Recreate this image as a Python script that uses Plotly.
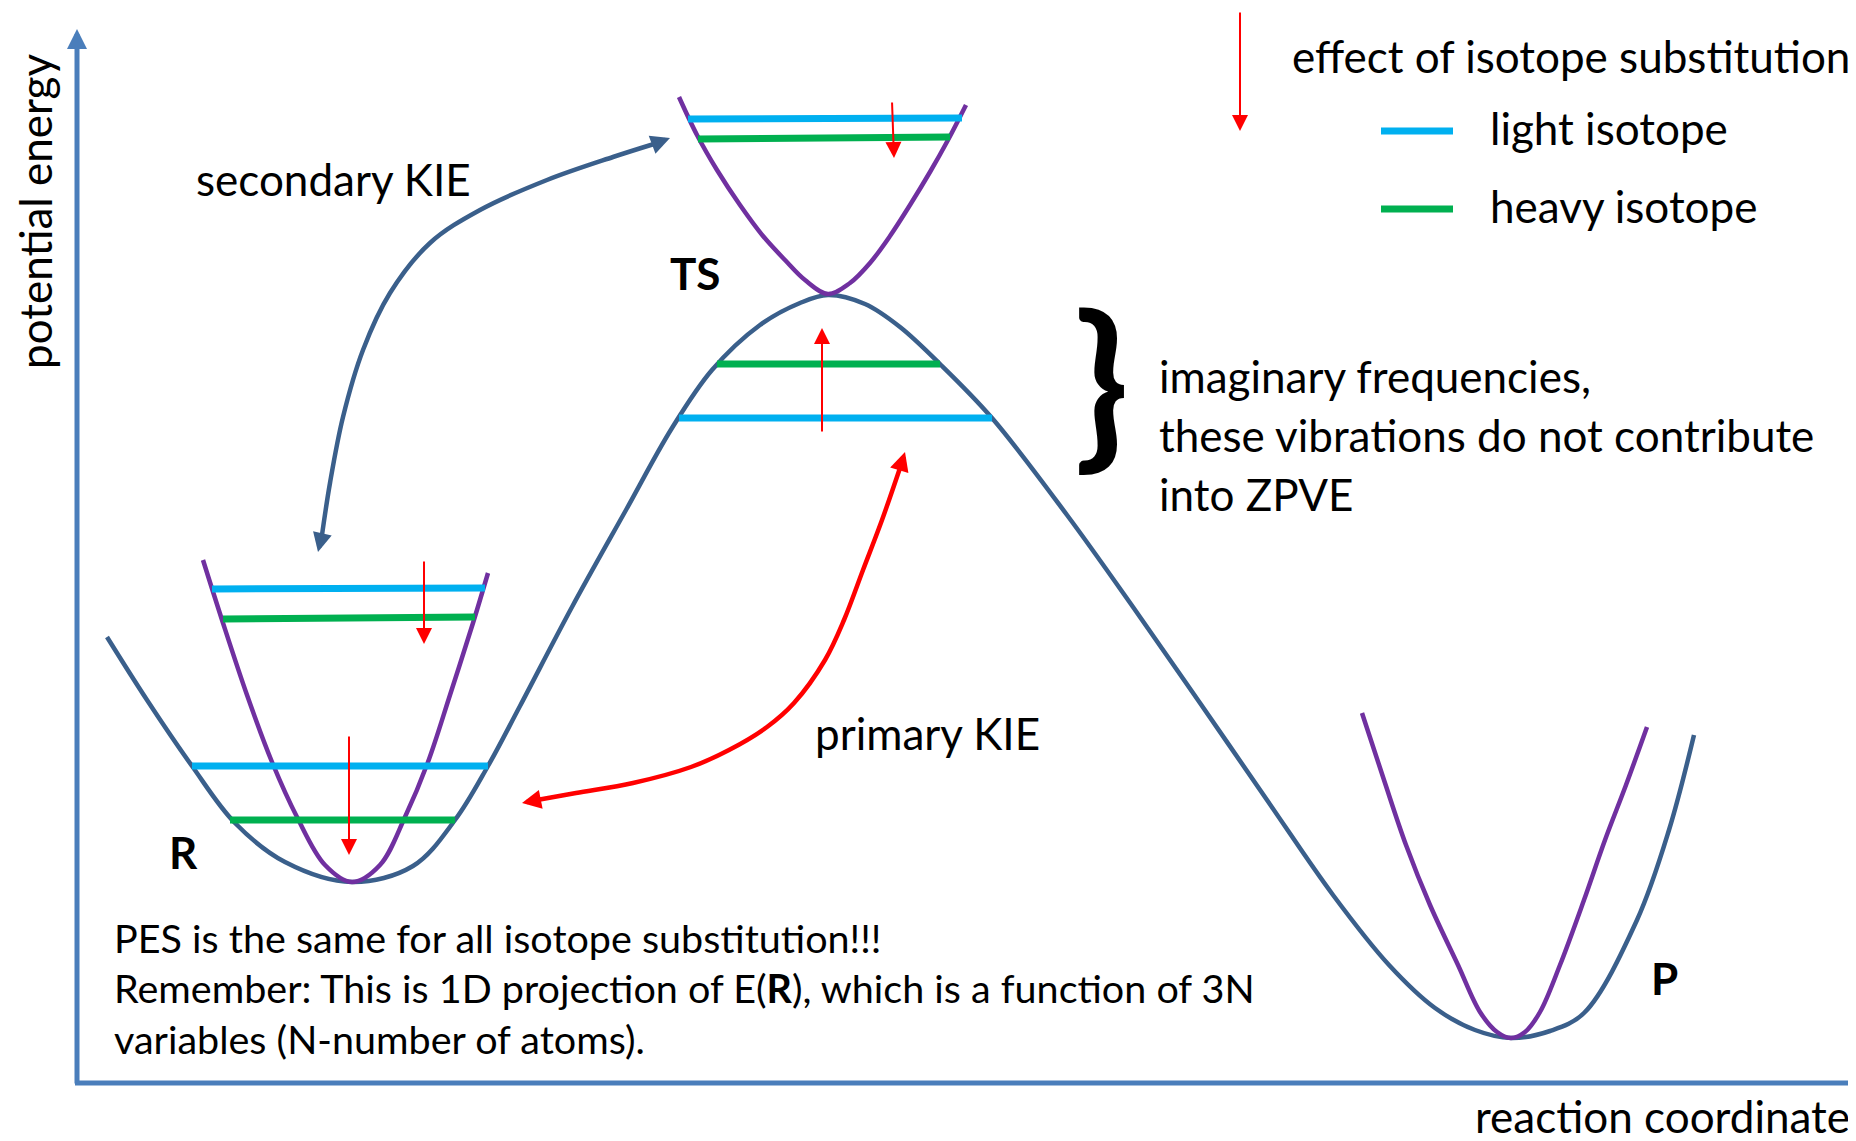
import plotly.graph_objects as go

W, H = 1856, 1141
PAGE_MARGIN = 8  # default body margin of the html page

# ---- curves (pixel space) ----
PES_X = [107, 147, 192, 235, 285, 352, 413, 455, 488, 520, 572, 626, 672, 712, 760, 800, 828, 865,
         900, 940, 992, 1067, 1133, 1200, 1267, 1333, 1389, 1435, 1475, 1511, 1550, 1584, 1637, 1669, 1694]
PES_Y = [637, 700, 766, 823, 862, 882, 866, 820, 766, 706, 607, 510, 428, 370, 325, 303, 295, 304,
         327, 364, 418, 515, 607, 703, 800, 895, 965, 1008, 1030, 1038, 1031, 1013, 920, 830, 735]

R_WELL_X = [203, 223, 247, 272, 297, 325, 352, 380, 405, 428, 450, 473, 488]
R_WELL_Y = [560, 623, 695, 762, 817, 865, 882, 865, 817, 762, 695, 623, 573]

TS_WELL_X = [679, 697, 717, 740, 763, 785, 805, 828, 850, 870, 890, 910, 930, 948, 966]
TS_WELL_Y = [97, 135, 170, 205, 236, 260, 280, 294, 283, 263, 236, 205, 172, 140, 105]

P_WELL_X = [1362, 1384, 1406, 1430, 1458, 1480, 1497, 1511, 1525, 1540, 1560, 1584, 1605, 1626, 1647]
P_WELL_Y = [713, 780, 845, 905, 965, 1012, 1032, 1038, 1032, 1012, 965, 900, 840, 785, 727]

# ---- vibrational levels: (x0, y0, x1, y1) ----
LIGHT_LEVELS = [(212, 589, 485, 588), (192, 766, 488, 766), (688, 119, 962, 118), (679, 418, 992, 418)]
HEAVY_LEVELS = [(223, 619, 475, 617), (230, 820, 455, 820), (698, 139, 950, 137), (717, 364, 940, 364)]

# ---- isotope-effect arrows: (x_start, y_start, x_tip, y_tip) ----
ISO_ARROWS = [(424, 560, 424, 644), (349, 735, 349, 855), (892, 101, 894, 158), (822, 433, 822, 328),
              (1240, 11, 1240, 131)]

# ---- KIE curved arrows ----
SEC_X = [654, 613, 547, 480, 430, 390, 363, 343, 330, 322]
SEC_Y = [144, 157, 180, 210, 243, 293, 350, 417, 483, 535]
SEC_TIPS = [(670, 138), (318, 552)]

PRI_X = [900, 882, 863, 844, 825, 794, 767, 729, 691, 633, 576, 537]
PRI_Y = [468, 520, 570, 620, 660, 703, 727, 750, 767, 783, 793, 800]
PRI_TIPS = [(905, 452), (522, 803)]

# ---- axes ----
Y_AXIS = (77, 1085, 77, 29)
X_AXIS = (75, 1083, 1856, 1083)

# ---- legend ----
LEGEND_LIGHT = (1381, 131, 1453, 131)
LEGEND_HEAVY = (1381, 209, 1453, 209)

# ---- texts: (text, x, baseline_y, size, anchor) ----
TEXTS = [
    ("secondary KIE", 194, 196, 44, "left"),
    ("<b>TS</b>", 668, 290, 44, "left"),
    ("<b>R</b>", 167, 869, 44, "left"),
    ("<b>P</b>", 1649, 995, 44, "left"),
    ("primary KIE", 813, 750, 44, "left"),
    ("effect of isotope substitution", 1290, 73, 44, "left"),
    ("light isotope", 1488, 145, 44, "left"),
    ("heavy isotope", 1488, 223, 44, "left"),
    ("imaginary frequencies,", 1157, 393, 44, "left"),
    ("these vibrations do not contribute", 1157, 452, 44, "left"),
    ("into ZPVE", 1157, 511, 44, "left"),
    ("PES is the same for all isotope substitution!!!", 112, 953, 39.5, "left"),
    ("Remember: This is 1D projection of E(<b>R</b>), which is a function of 3N", 112, 1003, 39.5, "left"),
    ("variables (N-number of atoms).", 112, 1054, 39.5, "left"),
    ("reaction coordinate", 1852, 1133, 44, "right"),
]
Y_LABEL = ("potential energy", 52, 211, 44)
BRACE = ("<b>}</b>", 1101, 377, 180)

FONT = "Lato, 'Open Sans', sans-serif"
C_PES = "#3A5F8B"
C_AXIS = "#4A7EBB"
C_WELL = "#7030A0"
C_LIGHT = "#00B0F0"
C_HEAVY = "#00B050"
C_RED = "#FF0000"

fig = go.Figure()


def add_line(xs, ys, color, width, shape="spline"):
    fig.add_trace(go.Scatter(x=xs, y=ys, mode="lines", hoverinfo="skip",
                             line=dict(color=color, width=width, shape=shape, smoothing=1.0)))


add_line(PES_X, PES_Y, C_PES, 4.5)
add_line(R_WELL_X, R_WELL_Y, C_WELL, 4.5)
add_line(TS_WELL_X, TS_WELL_Y, C_WELL, 4.5)
add_line(P_WELL_X, P_WELL_Y, C_WELL, 4.5)

for x0, y0, x1, y1 in LIGHT_LEVELS + [LEGEND_LIGHT]:
    add_line([x0, x1], [y0, y1], C_LIGHT, 7, "linear")
for x0, y0, x1, y1 in HEAVY_LEVELS + [LEGEND_HEAVY]:
    add_line([x0, x1], [y0, y1], C_HEAVY, 7, "linear")

add_line(SEC_X, SEC_Y, C_PES, 4.5)
add_line(PRI_X, PRI_Y, C_RED, 4.5)

anns = []


def arrow(x0, y0, x1, y1, color, width, size):
    anns.append(dict(x=x1, y=y1, ax=x0, ay=y0, xref="x", yref="y", axref="x", ayref="y",
                     text="", showarrow=True, arrowhead=2, arrowsize=size, arrowwidth=width,
                     arrowcolor=color))


# axes
arrow(*Y_AXIS, C_AXIS, 5, 0.8)
add_line([X_AXIS[0], X_AXIS[2]], [X_AXIS[1], X_AXIS[3]], C_AXIS, 5, "linear")

for a in ISO_ARROWS:
    arrow(*a, C_RED, 2, 1.6)

# curved arrow heads
arrow(SEC_X[0], SEC_Y[0], SEC_TIPS[0][0], SEC_TIPS[0][1], C_PES, 4.5, 0.85)
arrow(SEC_X[-1], SEC_Y[-1], SEC_TIPS[1][0], SEC_TIPS[1][1], C_PES, 4.5, 0.85)
arrow(PRI_X[0], PRI_Y[0], PRI_TIPS[0][0], PRI_TIPS[0][1], C_RED, 4.5, 0.85)
arrow(PRI_X[-1], PRI_Y[-1], PRI_TIPS[1][0], PRI_TIPS[1][1], C_RED, 4.5, 0.85)

for txt, x, base, size, anchor in TEXTS:
    anns.append(dict(x=x, y=base - 0.387 * size, xref="x", yref="y", text=txt, showarrow=False,
                     xanchor=anchor, yanchor="middle",
                     font=dict(family=FONT, size=size, color="black")))

t, bx, cy, s = Y_LABEL
anns.append(dict(x=bx - 0.387 * s, y=cy, xref="x", yref="y", text=t, showarrow=False, textangle=-90,
                 xanchor="center", yanchor="middle", font=dict(family=FONT, size=s, color="black")))

t, cx, cy, s = BRACE
anns.append(dict(x=cx, y=cy, xref="x", yref="y", text=t, showarrow=False,
                 xanchor="center", yanchor="middle", font=dict(family=FONT, size=s, color="black")))

fig.update_layout(
    width=W - PAGE_MARGIN, height=H - PAGE_MARGIN, margin=dict(l=0, r=0, t=0, b=0),
    paper_bgcolor="white", plot_bgcolor="white", showlegend=False,
    xaxis=dict(range=[PAGE_MARGIN, W], visible=False, fixedrange=True),
    yaxis=dict(range=[H, PAGE_MARGIN], visible=False, fixedrange=True),
    annotations=anns,
)

fig.write_html("out.html")
